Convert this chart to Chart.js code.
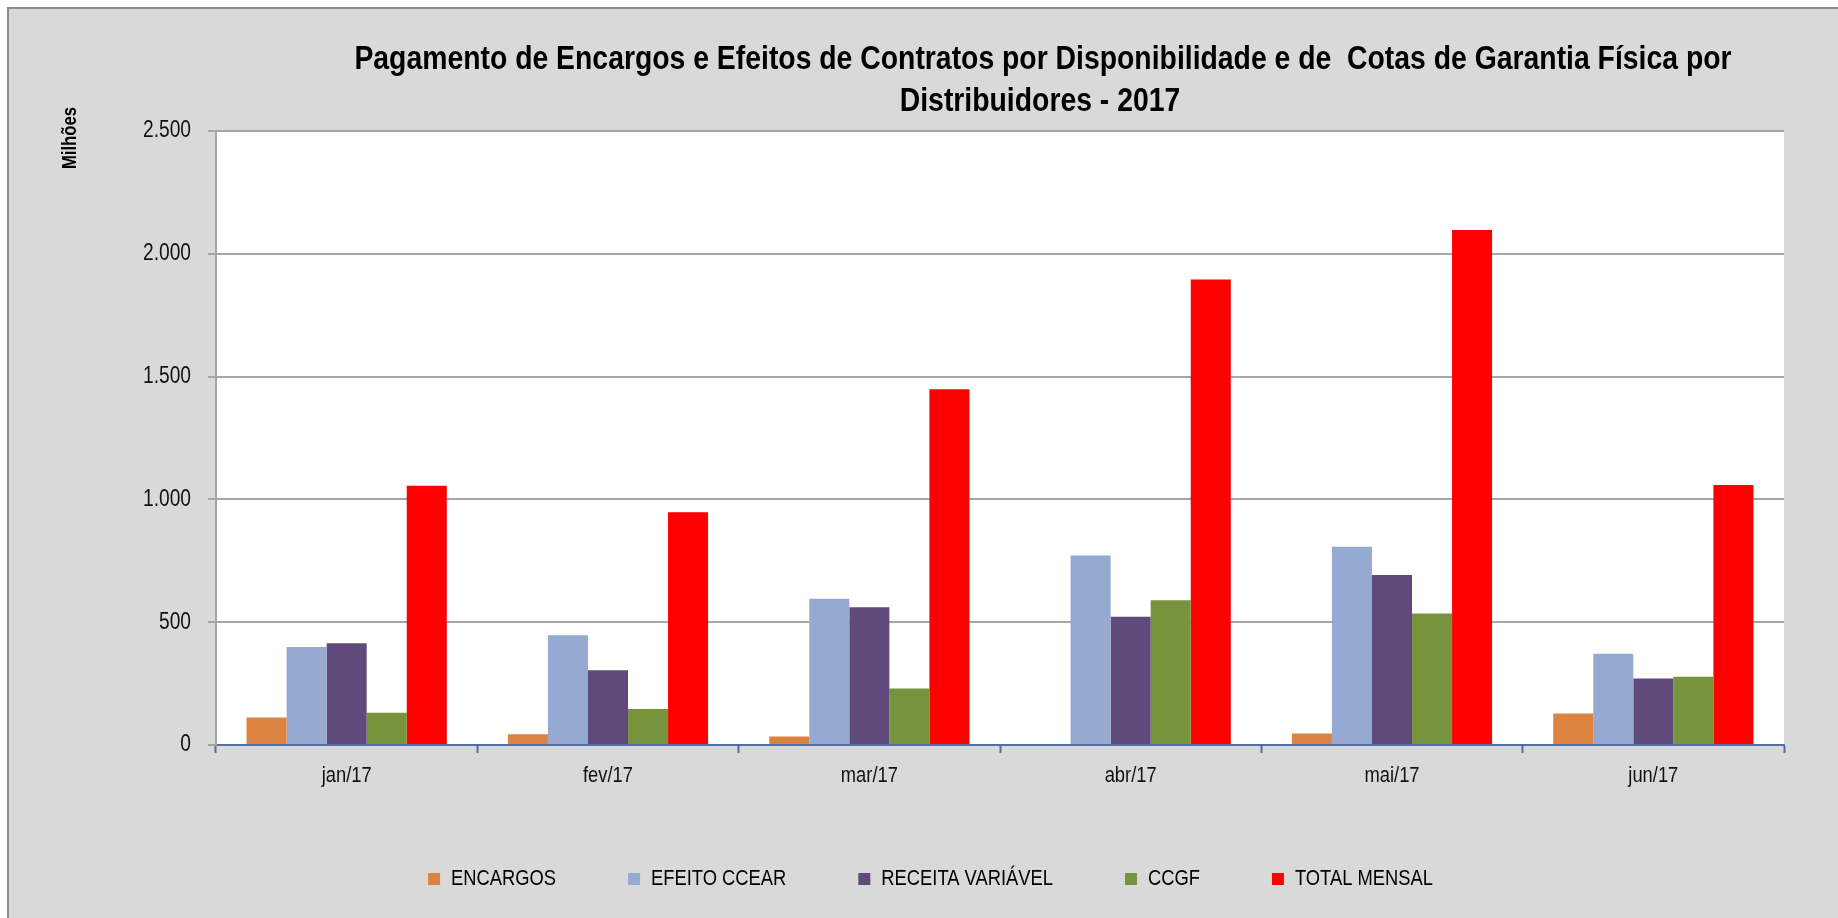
<!DOCTYPE html>
<html>
<head>
<meta charset="utf-8">
<title>Pagamento de Encargos - 2017</title>
<script src="https://cdn.jsdelivr.net/npm/chart.js@4.4.1/dist/chart.umd.min.js"></script>
<style>
  html, body { margin: 0; padding: 0; background: #fff; }
  #chart { display: block; }
</style>
</head>
<body>
<canvas id="chart" width="1838" height="918"></canvas>
<script>
// values in millions (R$)
const months = ['jan/17', 'fev/17', 'mar/17', 'abr/17', 'mai/17', 'jun/17'];
const encargos = [112, 44, 35, 0, 47, 128];
const efeitoCcear = [399, 447, 595, 772, 807, 372];
const receitaVariavel = [414, 304, 561, 522, 692, 271];
const ccgf = [131, 147, 230, 589, 535, 278];
const totalMensal = [1056, 948, 1449, 1895, 2097, 1059];
const yTicks = [0, 500, 1000, 1500, 2000, 2500];

const titleLines = [
    'Pagamento de Encargos e Efeitos de Contratos por Disponibilidade e de  Cotas de Garantia Física por',
    'Distribuidores - 2017'
];

// the original uses Arial Narrow; no narrow face is installed, so
// text in a "Narrow" font is squeezed horizontally to the same width
const NARROW = "'Liberation Sans Narrow', 'Arial Narrow', 'Liberation Sans', sans-serif";
const SQUEEZE = 0.834;

function narrowText(ctx) {
    const fill = ctx.fillText.bind(ctx);
    const measure = ctx.measureText.bind(ctx);
    ctx.fillText = function (text, x, y, maxWidth) {
        if (!ctx.font.includes('Narrow')) return fill(text, x, y, maxWidth);
        ctx.save();
        ctx.translate(x, y);
        ctx.scale(SQUEEZE, 1);
        fill(text, 0, 0);
        ctx.restore();
    };
    ctx.measureText = function (text) {
        const m = measure(text);
        if (!ctx.font.includes('Narrow')) return m;
        return {
            width: m.width * SQUEEZE,
            actualBoundingBoxLeft: m.actualBoundingBoxLeft * SQUEEZE,
            actualBoundingBoxRight: m.actualBoundingBoxRight * SQUEEZE,
            actualBoundingBoxAscent: m.actualBoundingBoxAscent,
            actualBoundingBoxDescent: m.actualBoundingBoxDescent,
            fontBoundingBoxAscent: m.fontBoundingBoxAscent,
            fontBoundingBoxDescent: m.fontBoundingBoxDescent
        };
    };
}

function fmt(v) { return String(v).replace(/\B(?=(\d{3})+(?!\d))/g, '.'); }

// grey panel, white plot area, title and unit label
const frame = {
    id: 'frame',
    beforeDraw(chart) {
        const { ctx, chartArea: a } = chart;
        ctx.save();
        ctx.fillStyle = '#d9d9d9';
        ctx.fillRect(8, 8, chart.width, chart.height);
        ctx.strokeStyle = '#8c8c8c';
        ctx.lineWidth = 2;
        ctx.strokeRect(8, 8, chart.width + 10, chart.height + 10);
        ctx.fillStyle = '#ffffff';
        ctx.fillRect(a.left, a.top, a.right - a.left, a.bottom - a.top);
        ctx.restore();
    },
    afterDraw(chart) {
        const { ctx } = chart;
        ctx.save();
        ctx.fillStyle = '#000';
        ctx.textAlign = 'center';
        ctx.textBaseline = 'alphabetic';
        ctx.font = 'bold 34px ' + NARROW;
        ctx.fillText(titleLines[0], 1043, 69);
        ctx.fillText(titleLines[1], 1040, 111);
        ctx.translate(70, 138);
        ctx.rotate(-Math.PI / 2);
        ctx.textBaseline = 'middle';
        ctx.font = 'bold 20px ' + NARROW;
        ctx.fillText('Milhões', 0, 0);
        ctx.restore();
    }
};

const bar = (label, data, color) => ({
    label, data,
    backgroundColor: color,
    borderWidth: 0,
    categoryPercentage: 0.766,
    barPercentage: 1.0
});

const ctx = document.getElementById('chart').getContext('2d');
narrowText(ctx);

new Chart(ctx, {
    type: 'bar',
    data: {
        labels: months,
        datasets: [
            bar('ENCARGOS', encargos, '#dd8340'),
            bar('EFEITO CCEAR', efeitoCcear, '#95a9d1'),
            bar('RECEITA VARIÁVEL', receitaVariavel, '#604a7b'),
            bar('CCGF', ccgf, '#77933c'),
            bar('TOTAL MENSAL', totalMensal, '#ff0000')
        ]
    },
    options: {
        responsive: false,
        animation: false,
        layout: { padding: { top: 131, left: 77, right: 54, bottom: 18 } },
        plugins: {
            title: { display: false },
            tooltip: { enabled: false },
            legend: {
                position: 'bottom',
                labels: {
                    boxWidth: 12,
                    boxHeight: 12,
                    padding: 72,
                    color: '#000',
                    font: { family: NARROW, size: 22 }
                }
            }
        },
        scales: {
            x: {
                afterFit: (s) => { s.height = 51; },
                grid: {
                    offset: true,
                    drawOnChartArea: false,
                    drawTicks: true,
                    tickLength: 8,
                    tickWidth: 2,
                    tickColor: '#4f6fa0'
                },
                border: { color: '#4f6fa0', width: 2 },
                ticks: {
                    color: '#111',
                    padding: 10,
                    font: { family: NARROW, size: 22 }
                }
            },
            y: {
                min: 0,
                max: 2500,
                afterFit: (s) => { s.width = 139; },
                afterBuildTicks: (s) => { s.ticks = yTicks.map((v) => ({ value: v })); },
                grid: {
                    color: (c) => (c.tick && c.tick.value === 0 ? 'rgba(0,0,0,0)' : '#a6a6a6'),
                    lineWidth: 2,
                    tickLength: 8,
                    tickColor: '#a6a6a6'
                },
                border: { color: '#a6a6a6', width: 2 },
                ticks: {
                    color: '#111',
                    padding: 17,
                    font: { family: NARROW, size: 23 },
                    callback: (v) => fmt(v)
                }
            }
        }
    },
    plugins: [frame]
});
</script>
</body>
</html>
